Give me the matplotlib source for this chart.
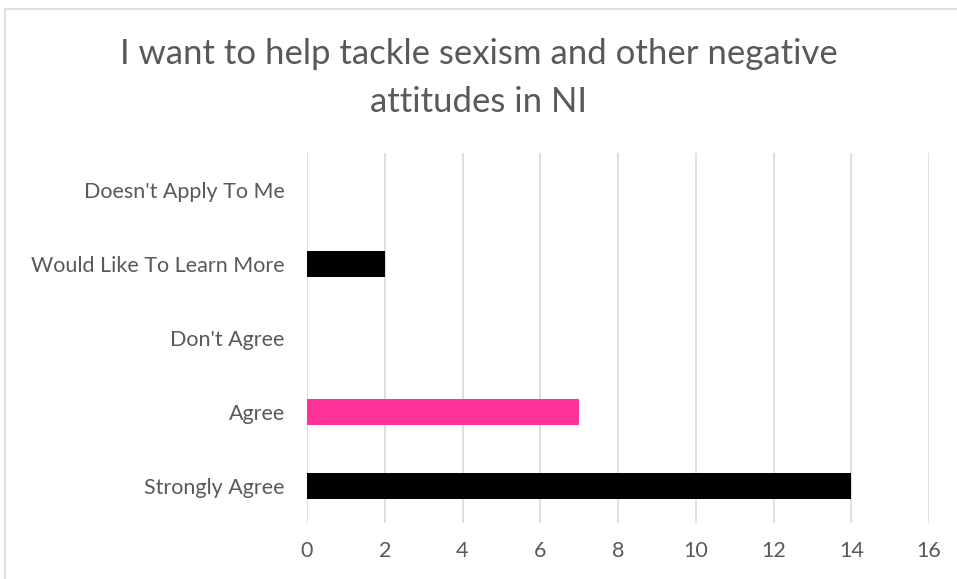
import matplotlib.pyplot as plt
from matplotlib.patches import Rectangle

categories = ['Strongly Agree', 'Agree', "Don't Agree", 'Would Like To Learn More', "Doesn't Apply To Me"]
counts = [14, 7, 0, 2, 0]
bar_colours = ['#000000', '#FF3399', '#000000', '#000000', '#000000']
x_ticks = [0, 2, 4, 6, 8, 10, 12, 14, 16]
title = 'I want to help tackle sexism and other negative\nattitudes in NI'

text_grey = '#595959'
plt.rcParams['font.family'] = ['Lato', 'DejaVu Sans']

fig = plt.figure(figsize=(9.57, 5.79), dpi=100)
ax = fig.add_axes([307/957, 1 - 523/579, 622/957, 370/579])

ax.barh(range(len(categories)), counts, height=0.36, color=bar_colours, zorder=3)

ax.set_xlim(0, 16)
ax.set_ylim(-0.5, len(categories) - 0.5)
ax.set_xticks(x_ticks)
ax.set_yticks(range(len(categories)))
ax.set_yticklabels(categories)
ax.tick_params(axis='both', length=0, labelsize=15.5, labelcolor=text_grey)
ax.tick_params(axis='y', pad=16)
ax.tick_params(axis='x', pad=13)

ax.grid(axis='x', color='#D9D9D9', linewidth=1.2, zorder=0)
for s in ax.spines.values():
    s.set_visible(False)

fig.text(0.5, 1 - 78/579, title, ha='center', va='center', fontsize=25,
         color=text_grey, linespacing=1.6)

fig.patches.append(Rectangle((5/957, -0.1), 1.2, 1.1 - 9/579, transform=fig.transFigure,
                             fill=False, edgecolor='#D9D9D9', linewidth=1.2))

fig.savefig('out.png', dpi=100)
